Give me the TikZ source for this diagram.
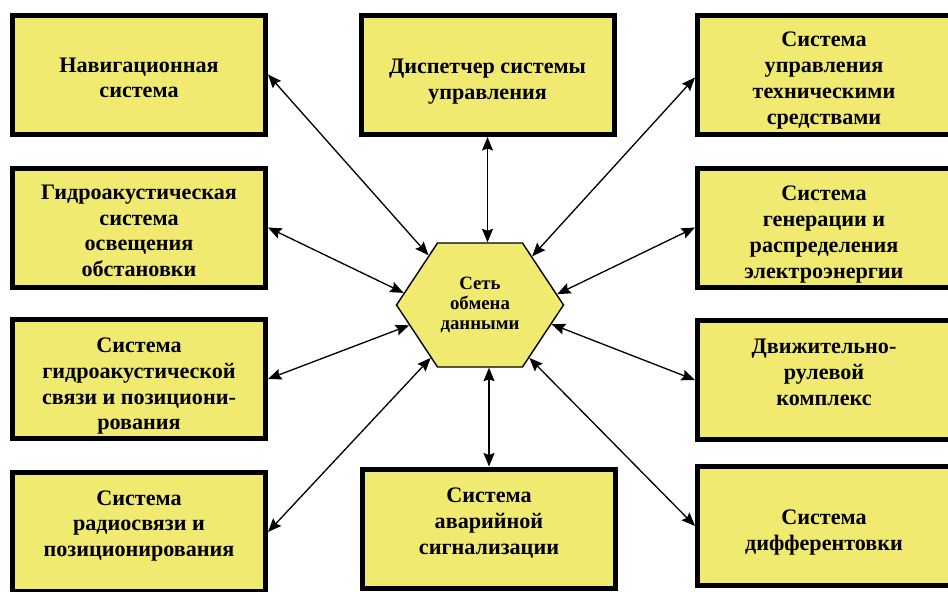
\documentclass[tikz,border=0pt]{standalone}
\usepackage{fontspec}
\setmainfont{Liberation Serif}
\usetikzlibrary{shapes.symbols,arrows.meta}
\definecolor{boxY}{RGB}{240,234,112}
% struts that push the text of a box down or up
\newcommand{\padtop}[1]{\rule{0pt}{#1}}
\newcommand{\padbot}[1]{\rule[-#1]{0pt}{0pt}}

\begin{document}
\begin{tikzpicture}[>={Stealth[length=2.7mm,width=2.2mm,inset=0.4mm]},
  box/.style={draw,line width=1mm,fill=boxY,minimum width=5.06cm,minimum height=2.38cm,
    align=center,inner sep=0pt,font=\fontsize{12.6}{14.7}\selectfont\bfseries},
  link/.style={<->,line width=0.75pt}]
\useasboundingbox (0,0) rectangle (18.96,11.82);
% left column
\node[box] (nav) at (2.78,10.33) {\padtop{12pt}Навигационная\\система};
\node[box] (sonar) at (2.78,7.27) {\padtop{12pt}Гидроакустическая\\система\\освещения\\обстановки};
\node[box] (acomm) at (2.78,4.24) {\padtop{16.5pt}Система\\гидроакустической\\связи и позициони-\\рования};
\node[box] (radio) at (2.78,1.18) {Система\\радиосвязи и\\позиционирования\padbot{9.6pt}};
% middle
\node[box] (disp) at (9.75,10.32) {\padtop{15.4pt}Диспетчер системы\\управления};
\node[box] (alarm) at (9.78,1.25) {Система\\аварийной\\сигнализации\padbot{8.2pt}};
% right column
\node[box] (tech) at (16.48,10.33) {\padtop{15.4pt}Система\\управления\\техническими\\средствами};
\node[box] (power) at (16.48,7.27) {\padtop{16.5pt}Система\\генерации и\\распределения\\электроэнергии};
\node[box] (prop) at (16.48,4.22) {Движительно-\\рулевой\\комплекс\padbot{9pt}};
\node[box] (trim) at (16.48,1.30) {\padtop{16pt}Система\\дифферентовки};
% hub
\node[signal,signal to=east and west,signal pointer angle=113,draw,fill=boxY,
  line width=0.8pt,minimum width=3.34cm,minimum height=2.48cm,inner sep=0pt,
  align=center,font=\fontsize{10.7}{11.4}\selectfont\bfseries] (net) at (9.6,5.72)
  {Сеть\\обмена\\данными};
% links
\draw[link] (nav.east) -- (net.136.6);
\draw[link] (sonar.east) -- (net.171.3);
\draw[link] (acomm.east) -- (net.196.3);
\draw[link] (radio.east) -- (net.227.1);
\draw[link] (disp.south) -- (disp.south |- net.north);
\draw[link] (alarm.north) -- (alarm.north |- net.south);
\draw[link] ([yshift=-0.06cm]tech.west) -- (net.43.3);
\draw[link] (power.west) -- (net.8.5);
\draw[link] (prop.west) -- (net.-15.3);
\draw[link] (trim.west) -- (net.-47.8);
\end{tikzpicture}
\end{document}
